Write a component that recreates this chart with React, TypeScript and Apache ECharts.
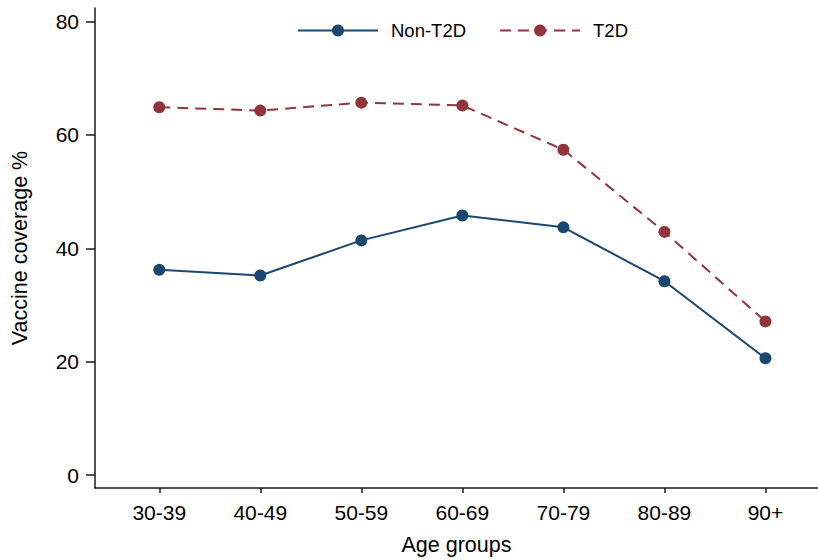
import React, { useEffect, useRef } from "react";
import * as echarts from "echarts";

const categories = ["30-39", "40-49", "50-59", "60-69", "70-79", "80-89", "90+"];
const nonT2D = [36.2, 35.2, 41.4, 45.8, 43.7, 34.2, 20.6];
const t2d = [64.9, 64.3, 65.7, 65.2, 57.4, 42.9, 27.1];
const yTicks = [0, 20, 40, 60, 80];

const FONT = "'Liberation Sans', Arial, Helvetica, sans-serif";
const NAVY = "#1a476f";
const MAROON = "#90353b";

export default function App() {
  const ref = useRef<HTMLDivElement>(null);
  useEffect(() => {
    if (!ref.current) return;
    const chart = echarts.init(ref.current, undefined, { renderer: "svg" });
    const idx = categories.map((_, i) => i);
    chart.setOption({
      animation: false,
      backgroundColor: "#ffffff",
      textStyle: { fontFamily: FONT, color: "#000" },
      grid: { left: 95, right: 0, top: 8, bottom: 72, containLabel: false, outerBoundsMode: "none" },
      legend: {
        left: 297,
        top: 21,
        padding: 0,
        itemWidth: 80,
        itemHeight: 15,
        itemGap: 33,
        textStyle: { fontFamily: FONT, fontSize: 18.5, color: "#000", padding: [0, 0, 0, 8] },
        data: ["Non-T2D", "T2D"],
      },
      xAxis: {
        type: "value",
        min: -0.636,
        max: 6.52,
        name: "Age groups",
        nameLocation: "middle",
        nameGap: 49,
        nameTextStyle: { fontFamily: FONT, fontSize: 21.5, lineHeight: 16, color: "#000" },
        axisLine: { show: true, onZero: false, lineStyle: { color: "#1a1a1a", width: 1.5 } },
        axisTick: { show: true, length: 5, customValues: idx, lineStyle: { color: "#1a1a1a", width: 1.5 } },
        axisLabel: {
          customValues: idx,
          margin: 14,
          fontFamily: FONT,
          fontSize: 21,
          color: "#000",
          formatter: (v: number) => categories[Math.round(v)] ?? "",
        },
        splitLine: { show: false },
      },
      yAxis: {
        type: "value",
        min: -2.29,
        max: 82.4,
        name: "Vaccine coverage %",
        nameLocation: "middle",
        nameGap: 64,
        nameTextStyle: { fontFamily: FONT, fontSize: 21.5, color: "#000" },
        axisLine: { show: true, onZero: false, lineStyle: { color: "#1a1a1a", width: 1.5 } },
        axisTick: { show: true, length: 9, customValues: yTicks, lineStyle: { color: "#1a1a1a", width: 1.5 } },
        axisLabel: {
          customValues: yTicks,
          margin: 16,
          fontFamily: FONT,
          fontSize: 21,
          color: "#000",
        },
        splitLine: { show: false },
      },
      series: [
        {
          name: "Non-T2D",
          type: "line",
          data: nonT2D.map((v, i) => [i, v]),
          symbol: "circle",
          symbolSize: 12,
          itemStyle: { color: NAVY },
          lineStyle: { color: NAVY, width: 2 },
        },
        {
          name: "T2D",
          type: "line",
          data: t2d.map((v, i) => [i, v]),
          symbol: "circle",
          symbolSize: 12,
          itemStyle: { color: MAROON },
          lineStyle: { color: MAROON, width: 2, type: [11, 7] },
        },
      ],
    });
    return () => chart.dispose();
  }, []);
  return (
    <div
      ref={ref}
      style={{ position: "fixed", left: 0, top: 0, width: 818, height: 560, background: "#fff" }}
    />
  );
}
